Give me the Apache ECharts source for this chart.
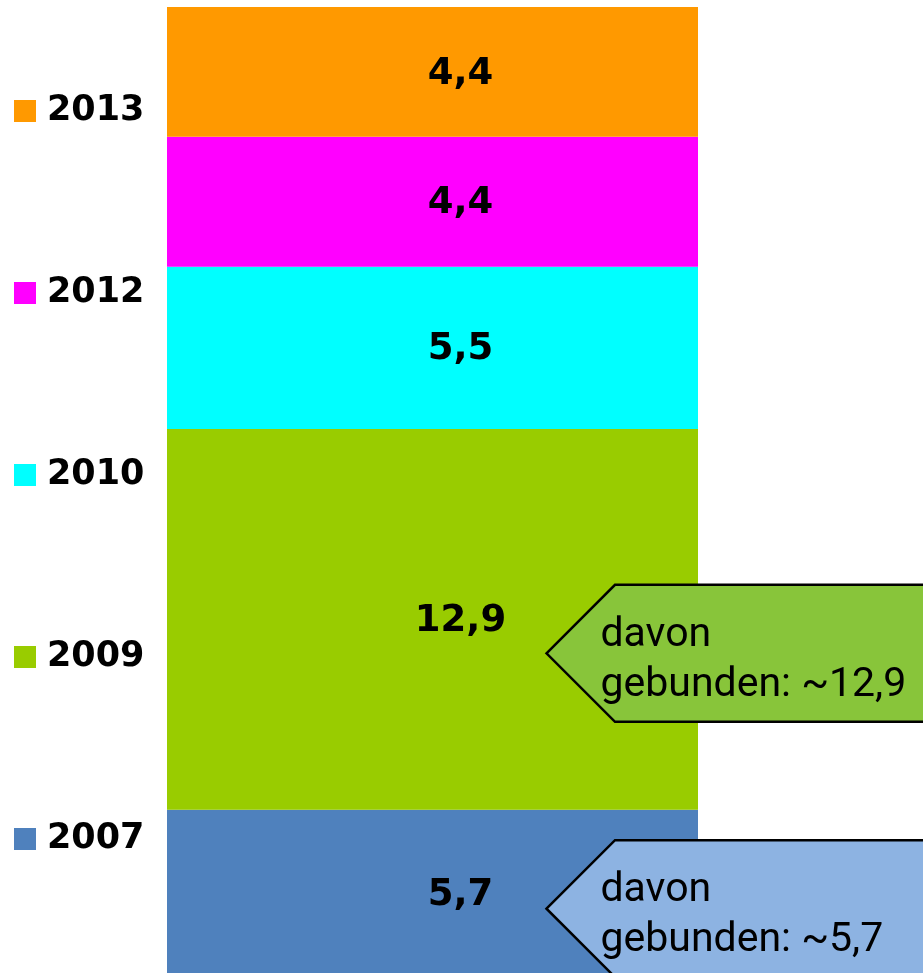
<!DOCTYPE html>
<html>
<head>
<meta charset="utf-8">
<script src="https://cdn.jsdelivr.net/npm/echarts@6/dist/echarts.min.js"></script>
<style>html,body{margin:0;padding:0;background:#fff;}#c{width:923px;height:973px;}</style>
</head>
<body>
<div id="c"></div>
<script>
// Data
var categories = ['Gesamt'];
var seriesNames = ['2007', '2009', '2010', '2012', '2013'];
var seriesValues = [5.7, 12.9, 5.5, 4.4, 4.4];
var legendOrder = ['2013', '2012', '2010', '2009', '2007'];
var calloutValues = [11.0, 2.35];
var calloutTexts = ['davon\ngebunden: ~12,9', 'davon\ngebunden: ~5,7'];

var colors = ['#4F81BD', '#99CC00', '#00FFFF', '#FF00FF', '#FF9900'];
var calloutFills = ['#88C53A', '#8DB3E2'];
var boldFont = "'DejaVu Sans', 'Liberation Sans', sans-serif";

var total = seriesValues.reduce(function (a, b) { return a + b; }, 0);
var chart = echarts.init(document.getElementById('c'));

var series = seriesNames.map(function (n, i) {
  return {
    name: n,
    type: 'bar',
    stack: 's',
    barWidth: '100%',
    data: [seriesValues[i]],
    itemStyle: { color: colors[i] },
    label: {
      show: true,
      position: 'inside',
      offset: [28, 2],
      formatter: function (p) { return String(p.value).replace('.', ','); },
      fontFamily: boldFont,
      fontWeight: 'bold',
      fontSize: 37,
      color: '#000'
    }
  };
});

chart.setOption({
  animation: false,
  grid: { left: 167, top: 7, width: 531, height: 971, outerBoundsMode: 'none', containLabel: false },
  xAxis: { type: 'category', data: categories, show: false },
  yAxis: { type: 'value', min: 0, max: total, show: false },
  legend: {
    orient: 'vertical',
    left: 14,
    top: 91,
    padding: 0,
    data: legendOrder,
    icon: 'rect',
    itemWidth: 22,
    itemHeight: 22,
    itemGap: 142,
    textStyle: {
      fontFamily: boldFont,
      fontWeight: 'bold',
      fontSize: 35,
      lineHeight: 40,
      color: '#000',
      padding: [0, 0, 0, 6]
    },
    selectedMode: false
  },
  series: series
});

// Callouts anchored to data values
var elements = [];
calloutValues.forEach(function (v, i) {
  var p = chart.convertToPixel({ xAxisIndex: 0, yAxisIndex: 0 }, [0, v]);
  var tipX = p[0] + 114;
  var tipY = p[1];
  var h = 137, half = h / 2;
  elements.push({
    type: 'polygon',
    shape: {
      points: [
        [tipX, tipY],
        [tipX + half, tipY - half],
        [tipX + 420, tipY - half],
        [tipX + 420, tipY + half],
        [tipX + half, tipY + half]
      ]
    },
    style: { fill: calloutFills[i], stroke: '#000', lineWidth: 2.5 },
    z: 10
  });
  elements.push({
    type: 'text',
    style: {
      text: calloutTexts[i],
      x: tipX + 54,
      y: tipY + 7,
      verticalAlign: 'middle',
      fontFamily: 'Roboto, sans-serif',
      fontSize: 41,
      lineHeight: 50,
      fill: '#000'
    },
    z: 11
  });
});
chart.setOption({ graphic: { elements: elements } });
</script>
</body>
</html>
